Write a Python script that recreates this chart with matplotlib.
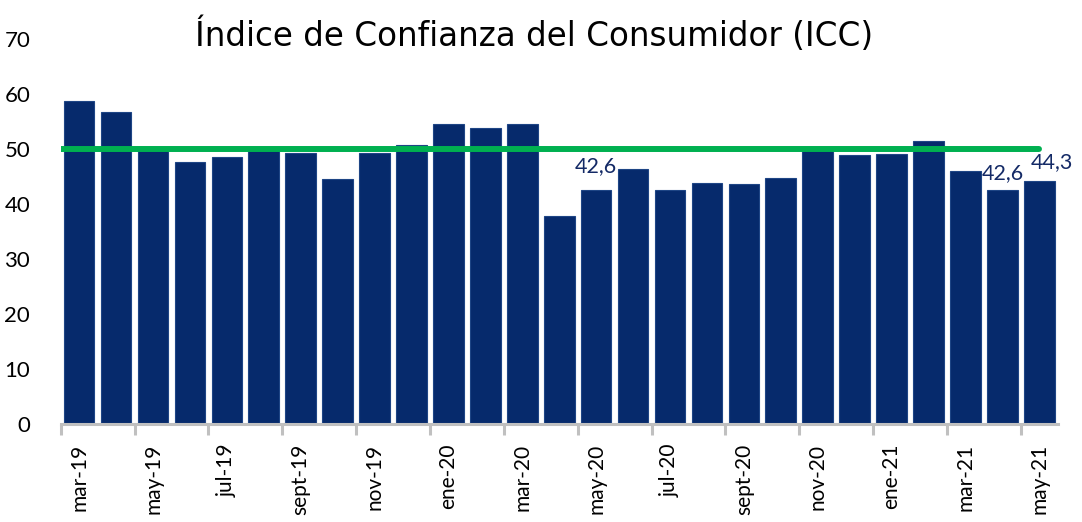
import matplotlib.pyplot as plt
import numpy as np

meses = ['mar-19', 'abr-19', 'may-19', 'jun-19', 'jul-19', 'ago-19', 'sept-19',
         'oct-19', 'nov-19', 'dic-19', 'ene-20', 'feb-20', 'mar-20', 'abr-20',
         'may-20', 'jun-20', 'jul-20', 'ago-20', 'sept-20', 'oct-20', 'nov-20',
         'dic-20', 'ene-21', 'feb-21', 'mar-21', 'abr-21', 'may-21']
icc = [58.8, 56.8, 49.8, 47.7, 48.6, 49.9, 49.4, 44.6, 49.3, 50.7, 54.5, 53.9,
       54.5, 37.8, 42.6, 46.4, 42.6, 43.8, 43.6, 44.8, 49.8, 48.9, 49.2, 51.5,
       46.1, 42.6, 44.3]
umbral = 50
etiquetas = {14: (0, 17), 25: (0, 12), 26: (9, 13)}  # idx: offset (pt)

plt.rcParams['font.family'] = ['Lato', 'DejaVu Sans']

fig = plt.figure(figsize=(10.82, 5.22), dpi=100)
ax = fig.add_axes([0.0561, 0.187, 0.9215, 0.738])

x = np.arange(len(meses))
ax.bar(x, icc, width=0.83, color='#062a6c', edgecolor='#1e4585', linewidth=0.8, zorder=2)
ax.plot([-0.5, x[-1]], [umbral, umbral], color='#00b050', lw=4.3, zorder=3,
        solid_capstyle='round')

for i, (dx, dy) in etiquetas.items():
    ax.annotate(f'{icc[i]:.1f}'.replace('.', ','), (x[i], icc[i]),
                xytext=(dx, dy), textcoords='offset points', ha='center',
                va='center', fontsize=15.5, color='#142a66', zorder=4)

ax.set_xlim(-0.5, len(meses) - 0.5)
ax.set_ylim(0, 70)
ax.set_yticks(range(0, 71, 10))
ax.tick_params(axis='y', length=0, labelsize=16, pad=22)

ax.set_xticks(x[::2])
ax.set_xticklabels(meses[::2], rotation=90, fontsize=15)
ax.set_xticks(x[::2] - 0.5, minor=True)
ax.tick_params(axis='x', which='major', length=0, pad=14)
ax.tick_params(axis='x', which='minor', length=8, width=2.2, color='#c0c0c0')

for s in ['top', 'right', 'left']:
    ax.spines[s].set_visible(False)
ax.spines['bottom'].set_color('#c0c0c0')
ax.spines['bottom'].set_linewidth(2.2)

fig.text(0.494, 0.932, 'Índice de Confianza del Consumidor (ICC)', ha='center',
         va='center', fontsize=23.5, family='DejaVu Sans')

fig.savefig('out.png', dpi=100)
